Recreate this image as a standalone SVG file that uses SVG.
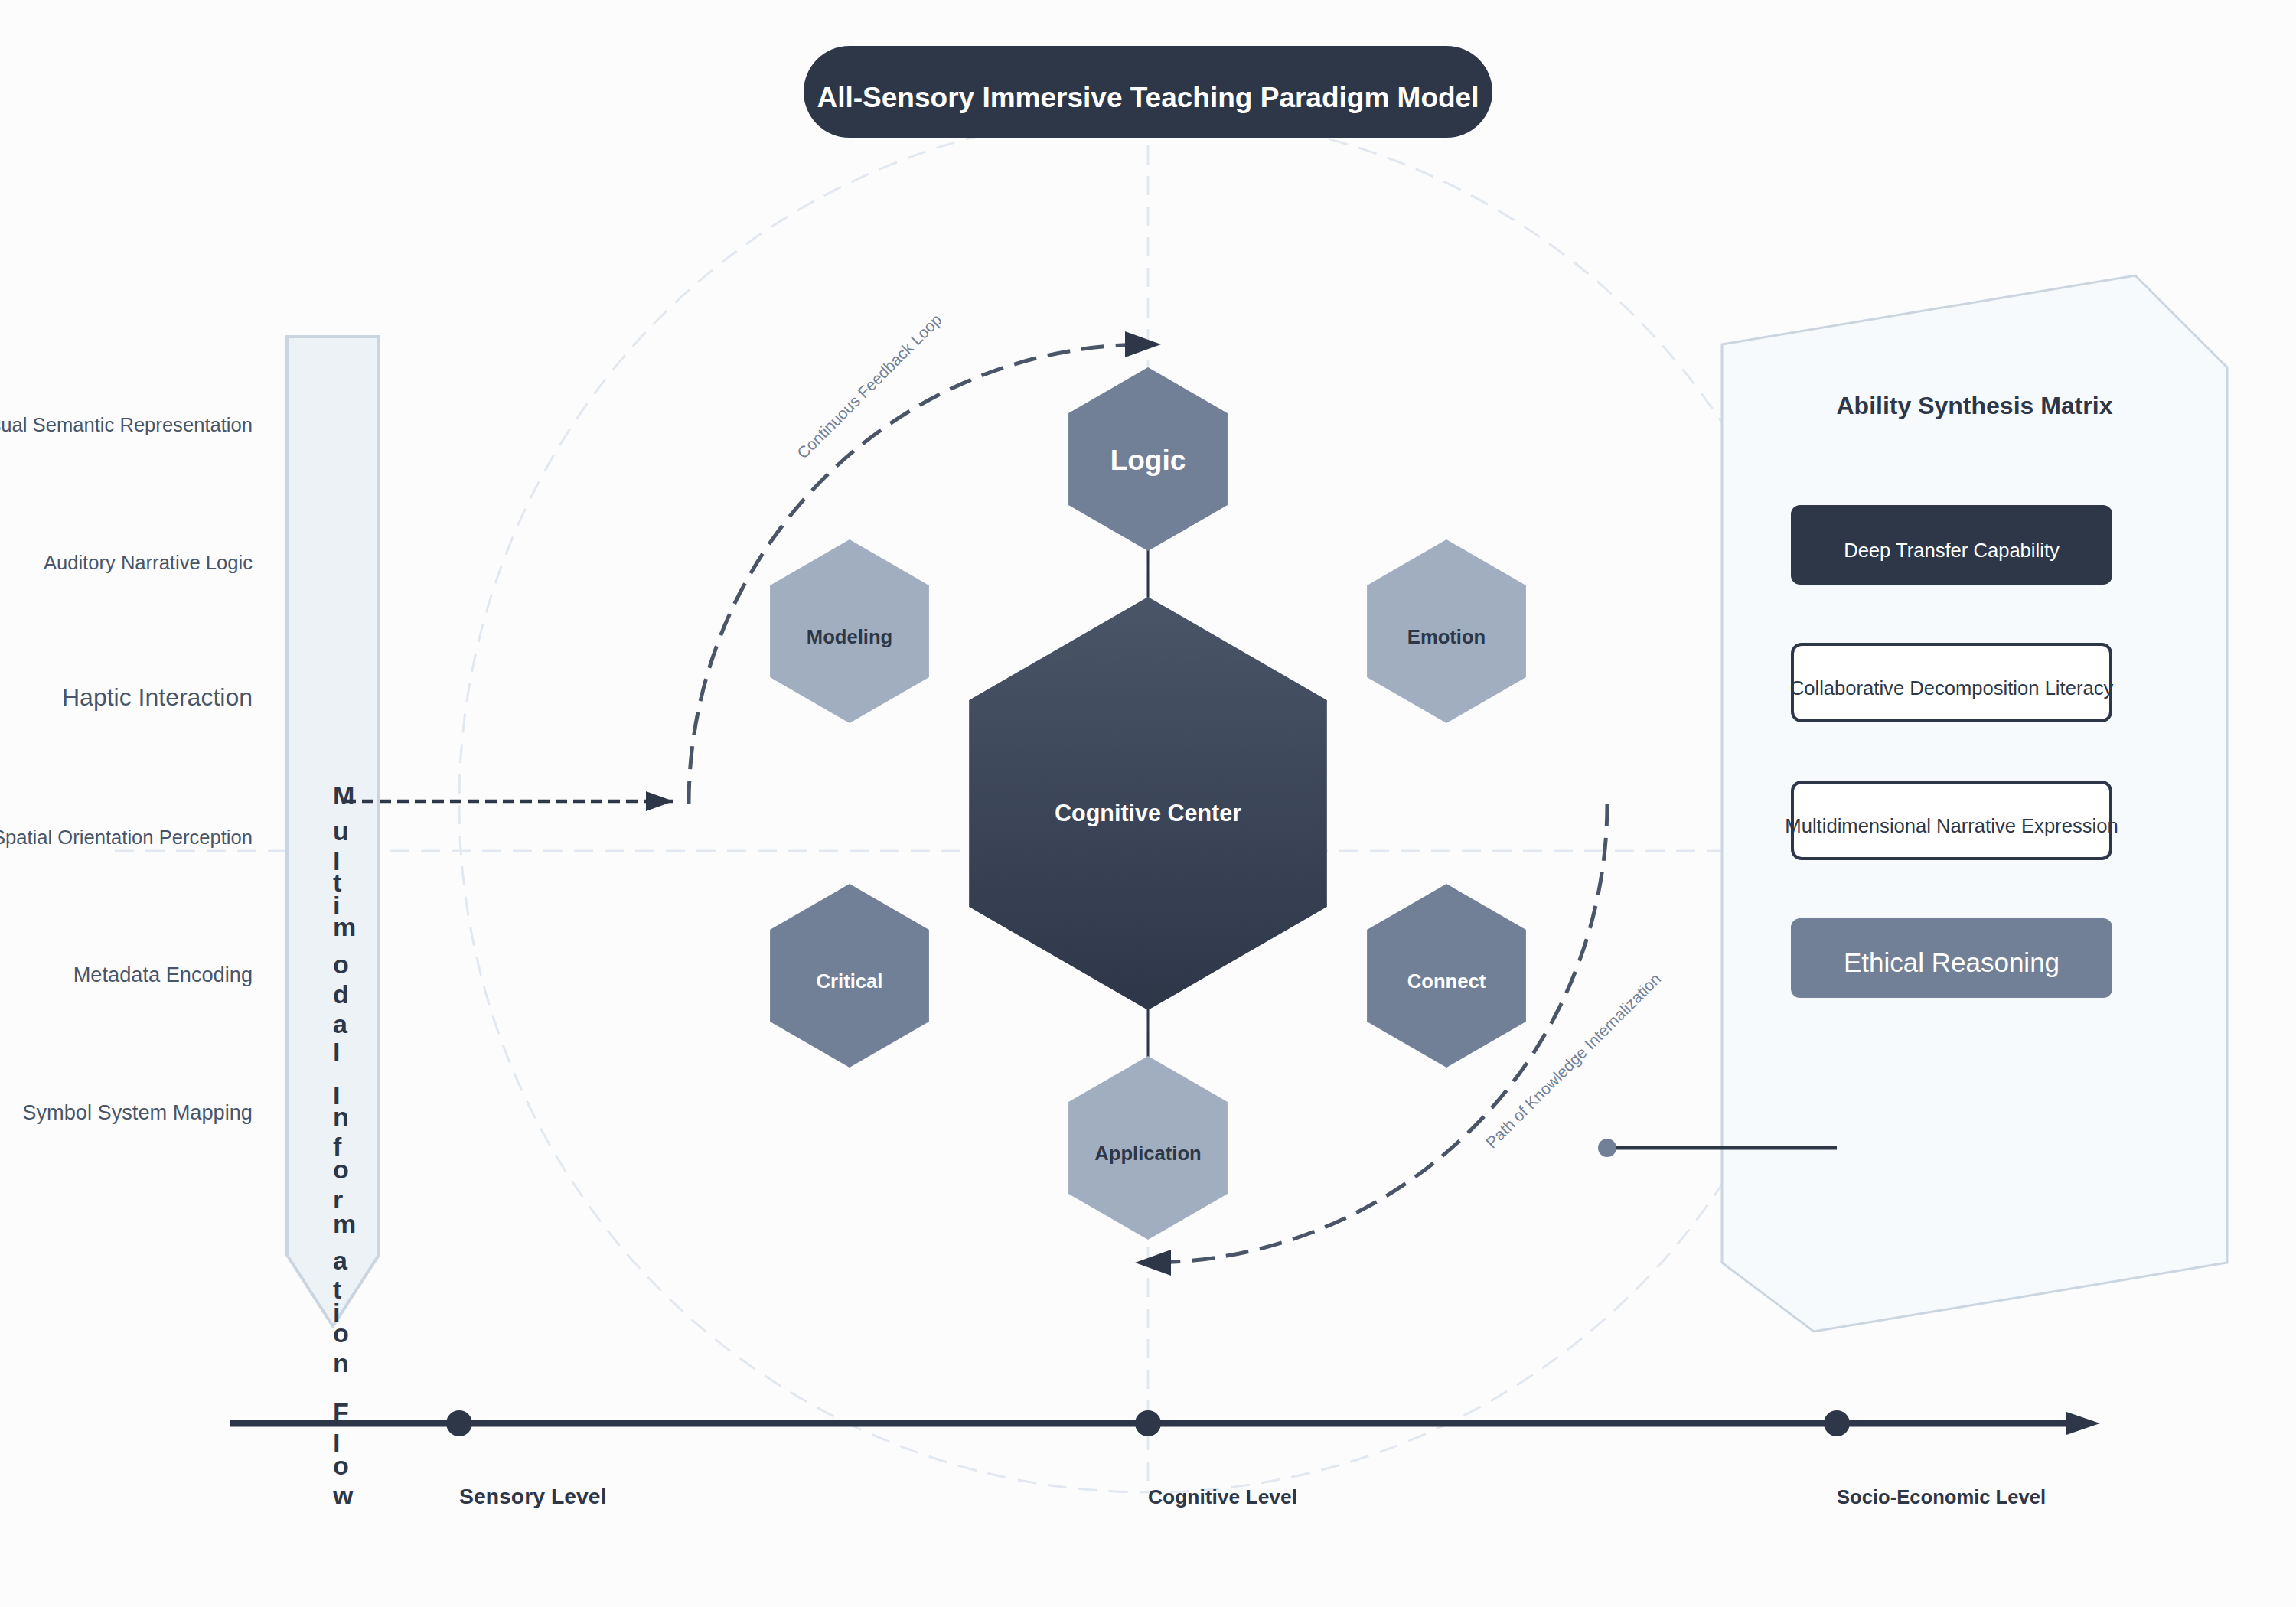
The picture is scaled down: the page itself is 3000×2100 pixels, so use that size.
<svg xmlns="http://www.w3.org/2000/svg" width="3000" height="2100" viewBox="0 0 3000 2100">
<style>
text{font-family:"Liberation Sans",Arial,Helvetica,sans-serif}
.grid{fill:none;stroke:#e2e8f0;stroke-width:3;stroke-dasharray:25 15}
.lbl{font-size:25.6px;fill:#4a5568;text-anchor:end}
.hexlbl{font-size:25.6px;font-weight:bold;text-anchor:middle}
.dk{fill:#2d3748}
.wt{fill:#ffffff}
.arc{fill:none;stroke:#4a5568;stroke-width:5;stroke-dasharray:30 15}
.arclbl{font-size:21px;fill:#718096;text-anchor:middle}
.boxt{font-size:25.6px;text-anchor:middle}
.tl{font-weight:bold;fill:#2d3748}
.vt{font-size:34px;font-weight:bold;fill:#2d3748}
</style>
<defs>
<path id="hex" d="M0,-120 L103.92,-60 L103.92,60 L0,120 L-103.92,60 L-103.92,-60 Z"/>
<linearGradient id="cg" x1="0" y1="0" x2="0" y2="1">
<stop offset="0" stop-color="#4a5568"/>
<stop offset="1" stop-color="#2d3748"/>
</linearGradient>
<marker id="arrArc" markerUnits="userSpaceOnUse" viewBox="0 0 47 34" markerWidth="47" markerHeight="34" refX="30" refY="17" orient="auto">
<path d="M0,0 L47,17 L0,34 Z" fill="#2d3748"/>
</marker>
<marker id="arrSmall" markerUnits="userSpaceOnUse" viewBox="0 0 36 26" markerWidth="36" markerHeight="26" refX="36" refY="13" orient="auto">
<path d="M0,0 L36,13 L0,26 Z" fill="#2d3748"/>
</marker>
<marker id="arrTl" markerUnits="userSpaceOnUse" viewBox="0 0 44 30" markerWidth="44" markerHeight="30" refX="0" refY="15" orient="auto">
<path d="M0,0 L44,15 L0,30 Z" fill="#2d3748"/>
</marker>
</defs>
<rect x="0" y="0" width="3000" height="2100" fill="#fcfcfd"/>

<g id="background-grid">
<circle class="grid" cx="1500" cy="1050" r="900"/>
<line class="grid" x1="1500" y1="150" x2="1500" y2="1950"/>
<line class="grid" x1="150" y1="1112" x2="2850" y2="1112"/>
</g>

<g id="title">
<rect x="1050" y="60" width="900" height="120" rx="60" fill="#2d3748"/>
<text x="1500" y="140" font-size="37" font-weight="bold" fill="#ffffff" text-anchor="middle">All-Sensory Immersive Teaching Paradigm Model</text>
</g>

<g id="sensory-labels">
<text class="lbl" x="330" y="564">Visual Semantic Representation</text>
<text class="lbl" x="330" y="744">Auditory Narrative Logic</text>
<text class="lbl" x="330" y="922" style="font-size:32px">Haptic Interaction</text>
<text class="lbl" x="330" y="1103">Spatial Orientation Perception</text>
<text class="lbl" x="330" y="1283" style="font-size:27.2px">Metadata Encoding</text>
<text class="lbl" x="330" y="1463" style="font-size:27.2px">Symbol System Mapping</text>
</g>

<g id="multimodal-flow">
<polygon points="375,440 495,440 495,1640 435,1733 375,1640" fill="#edf2f7" stroke="#cbd5e0" stroke-width="4"/>
<text class="vt"><tspan x="435" y="1051">M</tspan><tspan x="435" y="1098">u</tspan><tspan x="435" y="1137">l</tspan><tspan x="435" y="1165">t</tspan><tspan x="435" y="1195">i</tspan><tspan x="435" y="1223">m</tspan><tspan x="435" y="1272">o</tspan><tspan x="435" y="1311">d</tspan><tspan x="435" y="1350">a</tspan><tspan x="435" y="1387">l</tspan> <tspan x="435" y="1443">I</tspan><tspan x="435" y="1471">n</tspan><tspan x="435" y="1510">f</tspan><tspan x="435" y="1540">o</tspan><tspan x="435" y="1579">r</tspan><tspan x="435" y="1611">m</tspan><tspan x="435" y="1659">a</tspan><tspan x="435" y="1697">t</tspan><tspan x="435" y="1727">i</tspan><tspan x="435" y="1754">o</tspan><tspan x="435" y="1793">n</tspan> <tspan x="435" y="1857">F</tspan><tspan x="435" y="1898">l</tspan><tspan x="435" y="1927">o</tspan><tspan x="435" y="1966">w</tspan></text>
</g>

<g id="ability-matrix">
<polygon points="2250,450 2790,360 2910,480 2910,1650 2370,1740 2250,1650" fill="#f7fafc" stroke="#cbd5e0" stroke-width="3"/>
<text x="2580" y="541" font-size="32" font-weight="bold" fill="#2d3748" text-anchor="middle">Ability Synthesis Matrix</text>
<g id="box-deep-transfer">
<rect x="2340" y="660" width="420" height="104" rx="12" fill="#2d3748"/>
<text class="boxt wt" x="2550" y="728">Deep Transfer Capability</text>
</g>
<g id="box-collab">
<rect x="2342" y="842" width="416" height="100" rx="12" fill="#ffffff" stroke="#2d3748" stroke-width="4"/>
<text class="boxt dk" x="2550" y="908">Collaborative Decomposition Literacy</text>
</g>
<g id="box-narrative">
<rect x="2342" y="1022" width="416" height="100" rx="12" fill="#ffffff" stroke="#2d3748" stroke-width="4"/>
<text class="boxt dk" x="2550" y="1088">Multidimensional Narrative Expression</text>
</g>
<g id="box-ethical">
<rect x="2340" y="1200" width="420" height="104" rx="12" fill="#718096"/>
<text class="boxt wt" x="2550" y="1270" style="font-size:35px">Ethical Reasoning</text>
</g>
</g>

<g id="connectors">
<line x1="1500" y1="718" x2="1500" y2="782" stroke="#2d3748" stroke-width="3"/>
<line x1="1500" y1="1318" x2="1500" y2="1382" stroke="#2d3748" stroke-width="3"/>
<path class="arc" d="M900,1050 A600,600 0 0 1 1500,450" marker-end="url(#arrArc)"/>
<path class="arc" d="M2100,1050 A600,600 0 0 1 1500,1650" marker-end="url(#arrArc)"/>
<line x1="450" y1="1047" x2="880" y2="1047" stroke="#2d3748" stroke-width="4.5" stroke-dasharray="15 8" marker-end="url(#arrSmall)"/>
<line x1="2100" y1="1500" x2="2400" y2="1500" stroke="#2d3748" stroke-width="5"/>
<circle cx="2100" cy="1500" r="12" fill="#718096"/>
<text class="arclbl" x="1141" y="510" transform="rotate(-45 1141 510)">Continuous Feedback Loop</text>
<text class="arclbl" x="2061" y="1391" transform="rotate(-45 2061 1391)">Path of Knowledge Internalization</text>
</g>

<g id="node-center">
<path d="M1500,780 L1733.83,915 L1733.83,1185 L1500,1320 L1266.17,1185 L1266.17,915 Z" fill="url(#cg)"/>
<text x="1500" y="1073" font-size="30.5" font-weight="bold" fill="#ffffff" text-anchor="middle">Cognitive Center</text>
</g>
<g id="node-logic">
<use href="#hex" x="1500" y="600" fill="#718096"/>
<text x="1500" y="614" font-size="37" font-weight="bold" fill="#ffffff" text-anchor="middle">Logic</text>
</g>
<g id="node-modeling">
<use href="#hex" x="1110" y="825" fill="#a0aec0"/>
<text class="hexlbl dk" x="1110" y="841">Modeling</text>
</g>
<g id="node-emotion">
<use href="#hex" x="1890" y="825" fill="#a0aec0"/>
<text class="hexlbl dk" x="1890" y="841">Emotion</text>
</g>
<g id="node-critical">
<use href="#hex" x="1110" y="1275" fill="#718096"/>
<text class="hexlbl wt" x="1110" y="1291">Critical</text>
</g>
<g id="node-connect">
<use href="#hex" x="1890" y="1275" fill="#718096"/>
<text class="hexlbl wt" x="1890" y="1291">Connect</text>
</g>
<g id="node-application">
<use href="#hex" x="1500" y="1500" fill="#a0aec0"/>
<text class="hexlbl dk" x="1500" y="1516">Application</text>
</g>

<g id="timeline">
<line x1="300" y1="1860" x2="2700" y2="1860" stroke="#2d3748" stroke-width="9" marker-end="url(#arrTl)"/>
<circle cx="600" cy="1860" r="17" fill="#2d3748"/>
<circle cx="1500" cy="1860" r="17" fill="#2d3748"/>
<circle cx="2400" cy="1860" r="17" fill="#2d3748"/>
<text class="tl" x="600" y="1965" font-size="28.4">Sensory Level</text>
<text class="tl" x="1500" y="1965" font-size="26.4">Cognitive Level</text>
<text class="tl" x="2400" y="1965" font-size="25.6">Socio-Economic Level</text>
</g>
</svg>
